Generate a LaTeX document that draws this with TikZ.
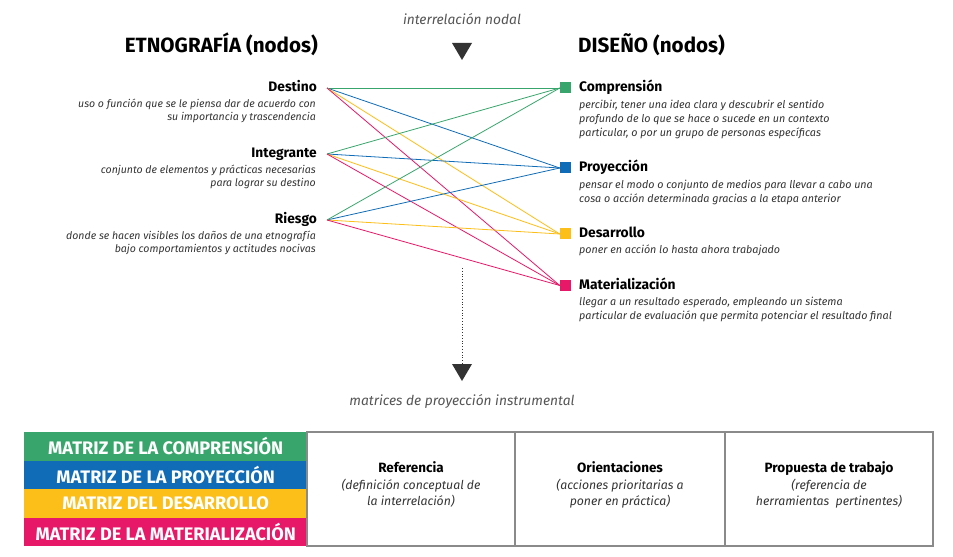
\documentclass[tikz,border=0pt]{standalone}
\usepackage{fontspec}
\setmainfont{Fira Sans}
\definecolor{cgreen}{HTML}{38A66C}
\definecolor{cblue}{HTML}{106CB6}
\definecolor{cyellow}{HTML}{FCBE18}
\definecolor{cpink}{HTML}{E81868}
\definecolor{tgrey}{HTML}{555555}
\definecolor{dgrey}{HTML}{333333}
\definecolor{bgrey}{HTML}{8A8A8A}
\tikzset{
  head/.style={font=\bfseries\fontsize{20.7}{24}\selectfont, inner sep=0pt},
  ltitle/.style={font=\bfseries\fontsize{13.8}{16}\selectfont, inner sep=0pt, anchor=base east},
  rtitle/.style={font=\bfseries\fontsize{13.9}{16}\selectfont, inner sep=0pt, anchor=base west},
  ldesc/.style={font=\itshape\fontsize{10.6}{14}\selectfont, text=dgrey, inner sep=0pt, anchor=base east, align=right},
  rdesc/.style={font=\itshape\fontsize{10.8}{14.5}\selectfont, text=dgrey, inner sep=0pt, anchor=base west, align=left},
  note/.style={font=\itshape\fontsize{13.8}{16}\selectfont, text=tgrey, inner sep=0pt, anchor=base},
  sq/.style={minimum size=11bp, inner sep=0pt, fill=#1},
  link/.style={draw=#1, line width=0.8bp},
  tri/.style={fill=dgrey, draw=none},
  matrow/.style={fill=#1, minimum width=283bp, minimum height=28.5bp, inner sep=0pt, anchor=north west,
    text=white, font=\bfseries\fontsize{18.2}{20}\selectfont},
  cellhead/.style={font=\bfseries\fontsize{13.5}{16}\selectfont, inner sep=0pt, anchor=base},
  celltext/.style={font=\itshape\fontsize{12.3}{15.5}\selectfont, text=dgrey, inner sep=0pt, anchor=base, align=center},
}
\begin{document}
\begin{tikzpicture}[x=1bp,y=-1bp]
\useasboundingbox (0,0) rectangle (953,557);
% headings
\node[head, anchor=base east] (hl) at (318,53) {ETNOGRAFÍA (nodos)};
\node[head, anchor=base west] (hr) at (578,53) {DISEÑO (nodos)};
\node[note] (top) at (462,25) {interrelación nodal};
\fill[tri] (452,43) -- (472,43) -- (462,60) -- cycle;
% left nodes (base anchor = last line baseline)
\node[ltitle] (t1) at (317,92) {Destino};
\node[ldesc] (d1) at (316,121) {uso o función que se le piensa dar de acuerdo con\\su importancia y trascendencia};
\node[ltitle] (t2) at (317,158) {Integrante};
\node[ldesc] (d2) at (316,187) {conjunto de elementos y prácticas necesarias\\para lograr su destino};
\node[ltitle] (t3) at (317,224) {Riesgo};
\node[ldesc] (d3) at (316,253) {donde se hacen visibles los daños de una etnografía\\bajo comportamientos y actitudes nocivas};
\coordinate (L1) at (327,88);
\coordinate (L2) at (327,154);
\coordinate (L3) at (327,220);
% right nodes
\node[sq=cgreen] (R1) at (565.5,88) {};
\node[sq=cblue] (R2) at (565.5,168) {};
\node[sq=cyellow] (R3) at (565.5,234) {};
\node[sq=cpink] (R4) at (565.5,285.5) {};
\node[rtitle] (s1) at (579,92) {Comprensión};
\node[rdesc] (e1) at (579,137) {percibir, tener una idea clara y descubrir el sentido\\profundo de lo que se hace o sucede en un contexto\\particular, o por un grupo de personas específicas};
\node[rtitle] (s2) at (579,172) {Proyección};
\node[rdesc] (e2) at (579,203) {pensar el modo o conjunto de medios para llevar a cabo una\\cosa o acción determinada gracias a la etapa anterior};
\node[rtitle] (s3) at (579,238) {Desarrollo};
\node[rdesc] (e3) at (579,254) {poner en acción lo hasta ahora trabajado};
\node[rtitle] (s4) at (579,290) {Materialización};
\node[rdesc] (e4) at (579,320) {llegar a un resultado esperado, empleando un sistema\\particular de evaluación que permita potenciar el resultado final};
% links
\foreach \l in {L1,L2,L3}{
  \draw[link=cgreen] (\l) -- (R1.west);
  \draw[link=cblue] (\l) -- (R2.west);
  \draw[link=cyellow] (\l) -- (R3.west);
  \draw[link=cpink] (\l) -- (R4.west);
}
% dotted arrow down
\coordinate (ds) at (462,268);
\coordinate (de) at (462,364);
\draw[dgrey, dotted, line width=0.8bp] (ds) -- (de);
\fill[tri] (452,364) -- (472,364) -- (462,381) -- cycle;
\node[note] (bot) at (462,405) {matrices de proyección instrumental};
% matrix rows
\node[matrow=cgreen] (m1) at (24,432) {MATRIZ DE LA COMPRENSIÓN};
\node[matrow=cblue] (m2) at (24,460.5) {MATRIZ DE LA PROYECCIÓN};
\node[matrow=cyellow] (m3) at (24,489) {MATRIZ DEL DESARROLLO};
\node[matrow=cpink] (m4) at (24,517.5) {MATRIZ DE LA MATERIALIZACIÓN};
% table
\draw[bgrey, line width=1.2bp] (307,432) rectangle (933,546);
\draw[bgrey, line width=1.2bp] (515,432) -- (515,546);
\draw[bgrey, line width=1.2bp] (725,432) -- (725,546);
\node[cellhead] (c1) at (411,472) {Referencia};
\node[celltext] (c1t) at (411,505) {(definición conceptual de\\la interrelación)};
\node[cellhead] (c2) at (620,472) {Orientaciones};
\node[celltext] (c2t) at (620,505) {(acciones prioritarias a\\poner en práctica)};
\node[cellhead] (c3) at (829,472) {Propuesta de trabajo};
\node[celltext] (c3t) at (829,505) {(referencia de\\herramientas~ pertinentes)};
\end{tikzpicture}
\end{document}
